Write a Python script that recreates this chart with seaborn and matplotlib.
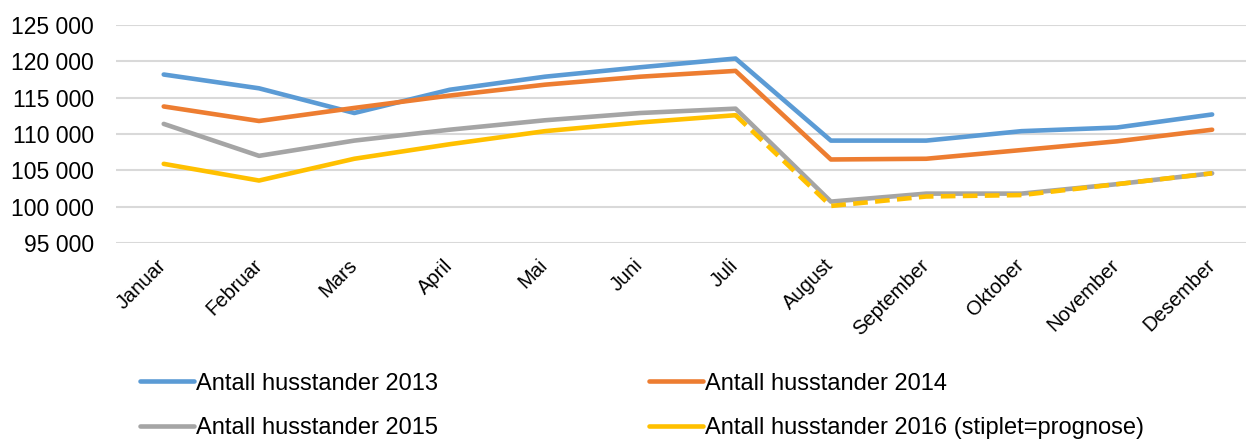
import pandas as pd
import seaborn as sns
import matplotlib.pyplot as plt
from matplotlib.ticker import FuncFormatter

months = ["Januar", "Februar", "Mars", "April", "Mai", "Juni", "Juli",
          "August", "September", "Oktober", "November", "Desember"]
h2013 = [118200, 116300, 112900, 116100, 117900, 119200, 120400, 109100, 109100, 110400, 110900, 112700]
h2014 = [113800, 111800, 113600, 115300, 116800, 117900, 118700, 106500, 106600, 107800, 109000, 110600]
h2015 = [111400, 107000, 109100, 110600, 111900, 112900, 113500, 100700, 101800, 101800, 103100, 104600]
h2016 = [105900, 103600, 106600, 108600, 110400, 111600, 112600, 100100, 101400, 101600, 103100, 104600]
last_actual = "Juli"  # 2016 is forecast after this month

labels = ["Antall husstander 2013", "Antall husstander 2014",
          "Antall husstander 2015", "Antall husstander 2016 (stiplet=prognose)"]
colors = ["#5B9BD5", "#ED7D31", "#A5A5A5", "#FFC000"]

cut = months.index(last_actual)
rows = []
for lab, vals in zip(labels, [h2013, h2014, h2015, h2016]):
    for i, (m, v) in enumerate(zip(months, vals)):
        if lab == labels[3] and i > cut:
            continue
        rows.append({"pos": i, "serie": lab, "verdi": v})
df = pd.DataFrame(rows)
prog = pd.DataFrame({"pos": list(range(cut, len(months))), "verdi": h2016[cut:]})

sns.set_style("white")
plt.rcParams["font.family"] = ["Liberation Sans", "DejaVu Sans"]
plt.rcParams["text.color"] = "black"

fig = plt.figure(figsize=(12.48, 4.41), dpi=100)
ax = fig.add_axes([0.093, 0.449, 0.905, 0.494])

sns.lineplot(data=df, x="pos", y="verdi", hue="serie", hue_order=labels,
             palette=colors, linewidth=3.3, ax=ax, sort=False)
sns.lineplot(data=prog, x="pos", y="verdi", color=colors[3], linewidth=3.3,
             ax=ax, legend=False)
ax.lines[-1].set_dashes((3.2, 1.6))

ax.set_ylim(95000, 125000)
ax.set_yticks(range(95000, 125001, 5000))
ax.yaxis.set_major_formatter(FuncFormatter(lambda v, p: f"{v:,.0f}".replace(",", " ")))
ax.set_xlim(-0.5, 11.35)
ax.set_xticks(range(len(months)))
ax.set_xticklabels(months, rotation=45, ha="right", va="center", rotation_mode="anchor")
ax.tick_params(axis="x", length=0, pad=14, labelsize=14.5, labelcolor="black")
ax.tick_params(axis="y", length=0, pad=16, labelsize=16.5, labelcolor="black")
ax.set_xlabel("")
ax.set_ylabel("")
ax.grid(axis="y", color="#D9D9D9", linewidth=1.5)
ax.set_axisbelow(True)
sns.despine(ax=ax, left=True, bottom=True)

handles, labs = ax.get_legend_handles_labels()
ax.get_legend().remove()
for h in handles:
    h.set_linewidth(3.3)
# two columns filled row by row
order = [0, 2, 1, 3]
fig.legend([handles[i] for i in order], [labs[i] for i in order],
           loc="center left", bbox_to_anchor=(0.112, 0.08),
           ncol=2, frameon=False, fontsize=17, handlelength=2.3,
           handletextpad=0.1, columnspacing=8.9, labelspacing=0.95,
           borderpad=0, borderaxespad=0)

fig.savefig("out.png", dpi=100)
